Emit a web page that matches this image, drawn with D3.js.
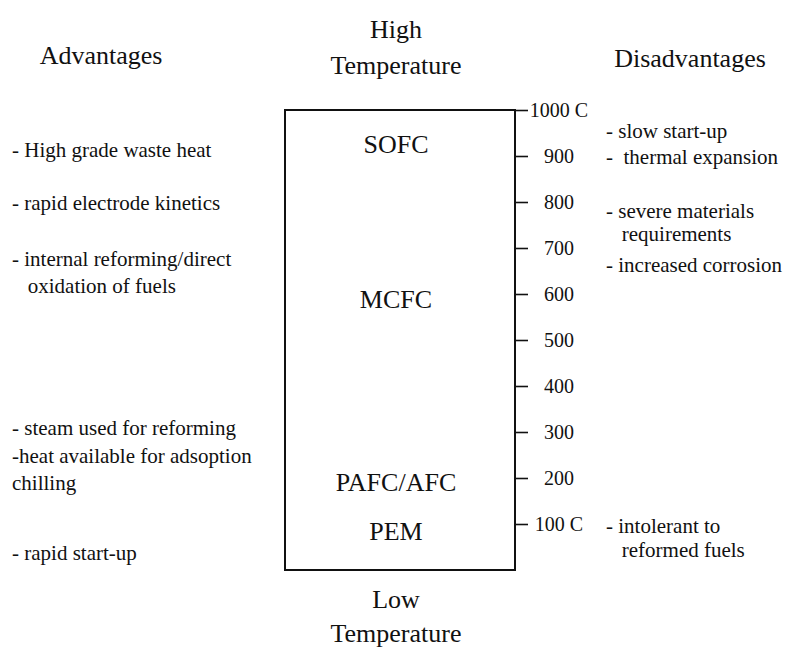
<!DOCTYPE html>
<html>
<head>
<meta charset="utf-8">
<script src="https://cdn.jsdelivr.net/npm/d3@7"></script>
<style>
  body { margin: 0; background: #fff; }
  svg text { font-family: "Liberation Serif", "Times New Roman", serif; fill: #111; }
</style>
</head>
<body>
<div id="chart"></div>
<script>
// temperature axis (deg C)
const tickValues = [100, 200, 300, 400, 500, 600, 700, 800, 900, 1000]
const tickLabels = ['100 C', '200', '300', '400', '500', '600', '700', '800', '900', '1000 C']

// fuel cell types and the temperature where each label sits
const fuelCells = ['SOFC', 'MCFC', 'PAFC/AFC', 'PEM']
const fuelCellTemps = [926, 589, 192, 85]

const advantages = [
    ['- High grade waste heat'],
    ['- rapid electrode kinetics'],
    ['- internal reforming/direct', '   oxidation of fuels'],
    ['- steam used for reforming', '-heat available for adsoption', 'chilling'],
    ['- rapid start-up']
]
const disadvantages = [
    ['- slow start-up'],
    ['-  thermal expansion'],
    ['- severe materials', '   requirements'],
    ['- increased corrosion'],
    ['- intolerant to', '   reformed fuels']
]

const width = 785, height = 648
const svg = d3.select('#chart').append('svg')
    .attr('width', width)
    .attr('height', height)

const boxLeft = 285, boxRight = 515
const yScale = d3.scaleLinear().domain([0, 1000]).range([570, 110])

// the box
svg.append('rect')
    .attr('x', boxLeft)
    .attr('y', yScale(1000))
    .attr('width', boxRight - boxLeft)
    .attr('height', yScale(0) - yScale(1000))
    .attr('fill', 'none')
    .attr('stroke', '#111')
    .attr('stroke-width', 2)

// temperature axis on the right edge
const axis = d3.axisRight(yScale)
    .tickValues(tickValues)
    .tickSize(13)
    .tickSizeOuter(0)
    .tickFormat((d, i) => tickLabels[i])

const gAxis = svg.append('g')
    .attr('transform', `translate(${boxRight},0)`)
    .call(axis)
gAxis.select('.domain').remove()
gAxis.selectAll('line').attr('stroke', '#111').attr('stroke-width', 1.6)
gAxis.selectAll('text')
    .attr('x', 44)
    .attr('text-anchor', 'middle')
    .attr('font-size', 20)
    .attr('font-family', '"Liberation Serif", serif')
    .attr('fill', '#111')

// fuel cell labels inside the box
svg.selectAll('.fc')
    .data(fuelCells)
    .enter()
    .append('text')
    .attr('class', 'fc')
    .attr('x', 396)
    .attr('y', (d, i) => yScale(fuelCellTemps[i]))
    .attr('dy', '0.35em')
    .attr('text-anchor', 'middle')
    .attr('font-size', 26)
    .text(d => d)

// headings
function heading(lines, x, ys) {
    lines.forEach((t, i) => {
        svg.append('text')
            .attr('x', x)
            .attr('y', ys[i])
            .attr('text-anchor', 'middle')
            .attr('font-size', 26)
            .text(t)
    })
}
heading(['High', 'Temperature'], 396, [38, 74])
heading(['Low', 'Temperature'], 396, [608, 642])
heading(['Advantages'], 101, [64])
heading(['Disadvantages'], 690, [67])

// notes on either side
function notes(items, x, ys, lineGap) {
    items.forEach((lines, i) => {
        lines.forEach((t, j) => {
            svg.append('text')
                .attr('x', x)
                .attr('y', ys[i] + j * lineGap[i])
                .attr('font-size', 21)
                .attr('xml:space', 'preserve')
                .style('white-space', 'pre')
                .text(t)
        })
    })
}
notes(advantages, 12, [157, 210, 266, 435, 560], [0, 0, 27, 27.5, 0])
notes(disadvantages, 606, [138, 164, 218, 272, 533], [0, 0, 23, 0, 24])
</script>
</body>
</html>
